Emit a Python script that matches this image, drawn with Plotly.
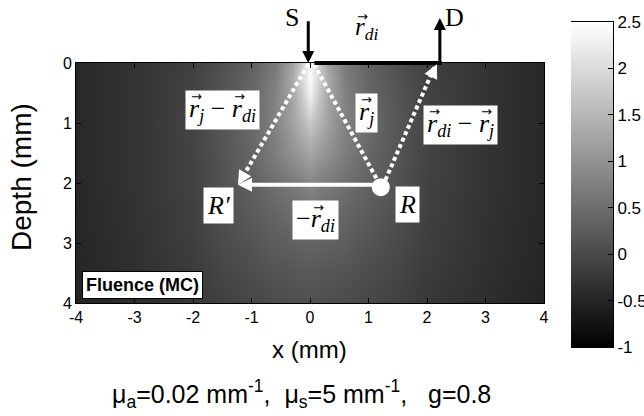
import plotly.graph_objects as go

# ---------------- data ----------------
x_mm = [-4, -3, -2, -1.5, -1, -0.6, -0.3, -0.15, 0, 0.15, 0.3, 0.6, 1, 1.5, 2, 3, 4]
depth_mm = [0, 0.25, 0.5, 1, 1.5, 2, 2.5, 3, 3.5, 4]
fluence_log = [
    [-0.45, -0.30, -0.12, 0.08, 0.33, 0.66, 1.20, 1.75, 2.43, 1.75, 1.20, 0.66, 0.33, 0.08, -0.12, -0.30, -0.45],
    [-0.45, -0.30, -0.10, 0.12, 0.38, 0.72, 1.33, 1.88, 2.45, 1.88, 1.33, 0.72, 0.38, 0.12, -0.10, -0.30, -0.45],
    [-0.45, -0.30, -0.09, 0.15, 0.40, 0.78, 1.26, 1.75, 2.36, 1.75, 1.26, 0.78, 0.40, 0.15, -0.09, -0.30, -0.45],
    [-0.45, -0.30, -0.06, 0.18, 0.46, 0.78, 1.20, 1.47, 1.75, 1.47, 1.20, 0.78, 0.46, 0.18, -0.06, -0.30, -0.45],
    [-0.45, -0.30, -0.08, 0.15, 0.40, 0.72, 0.99, 1.13, 1.26, 1.13, 0.99, 0.72, 0.40, 0.15, -0.08, -0.30, -0.45],
    [-0.45, -0.30, -0.09, 0.12, 0.34, 0.53, 0.66, 0.73, 0.85, 0.73, 0.66, 0.53, 0.34, 0.12, -0.09, -0.30, -0.45],
    [-0.46, -0.32, -0.12, 0.08, 0.25, 0.39, 0.48, 0.52, 0.58, 0.52, 0.48, 0.39, 0.25, 0.08, -0.12, -0.32, -0.46],
    [-0.48, -0.33, -0.14, 0.02, 0.15, 0.27, 0.32, 0.35, 0.38, 0.35, 0.32, 0.27, 0.15, 0.02, -0.14, -0.33, -0.48],
    [-0.49, -0.35, -0.19, -0.05, 0.05, 0.14, 0.18, 0.20, 0.22, 0.20, 0.18, 0.14, 0.05, -0.05, -0.19, -0.35, -0.49],
    [-0.52, -0.38, -0.23, -0.12, -0.03, 0.03, 0.06, 0.08, 0.09, 0.08, 0.06, 0.03, -0.03, -0.12, -0.23, -0.38, -0.52],
]
cbar_range = [-1, 2.5]
cbar_ticks = [-1, -0.5, 0, 0.5, 1, 1.5, 2, 2.5]
cbar_labels = ["-1", "-0.5", "0", "0.5", "1", "1.5", "2", "2.5"]
x_ticks = [-4, -3, -2, -1, 0, 1, 2, 3, 4]
y_ticks = [0, 1, 2, 3, 4]

# key points (mm): source S, detector D, point R and its image R'
S_pt = (-0.03, 0.0)
D_pt = (2.22, 0.0)
R_pt = (1.21, 2.07)
Rp_pt = (-1.23, 2.03)
arrow_top = -0.72   # depth (above surface) where S/D arrows end

SANS = "Liberation Sans, Arial, sans-serif"
SERIF = "Liberation Serif, Times New Roman, serif"

# page geometry (pixels) -> paper fractions
W, H = 644, 416
ML, MR, MT, MB = 76, 30, 22, 69
PW, PH = W - ML - MR, H - MT - MB


def px(xp):
    return (xp - ML) / PW


def py(yp):
    return (H - MB - yp) / PH


fig = go.Figure()

fig.add_trace(go.Heatmap(
    x=x_mm, y=depth_mm, z=fluence_log,
    zmin=cbar_range[0], zmax=cbar_range[1], zsmooth="best",
    colorscale=[[0, "black"], [1, "white"]], showscale=False, hoverinfo="skip",
    xaxis="x", yaxis="y",
))

# colour key drawn as its own small heatmap
fig.add_trace(go.Heatmap(
    x=[0, 1], y=cbar_range, z=[[cbar_range[0], cbar_range[0]], [cbar_range[1], cbar_range[1]]],
    zmin=cbar_range[0], zmax=cbar_range[1], zsmooth="best",
    colorscale=[[0, "black"], [1, "white"]], showscale=False, hoverinfo="skip",
    xaxis="x2", yaxis="y2",
))

# dotted white paths
dot = dict(color="white", width=4, dash="4px,3px")
fig.add_trace(go.Scatter(x=[S_pt[0], Rp_pt[0] + 0.05], y=[0.02, Rp_pt[1] - 0.08],
                         mode="lines", line=dot, showlegend=False, hoverinfo="skip"))
fig.add_trace(go.Scatter(x=[0.07, R_pt[0] - 0.06], y=[0.02, R_pt[1] - 0.12],
                         mode="lines", line=dot, showlegend=False, hoverinfo="skip"))
fig.add_trace(go.Scatter(x=[R_pt[0] + 0.08, D_pt[0] - 0.1], y=[R_pt[1] - 0.12, 0.08],
                         mode="lines", line=dot, showlegend=False, hoverinfo="skip"))
# point R
fig.add_trace(go.Scatter(x=[R_pt[0]], y=[R_pt[1]], mode="markers",
                         marker=dict(color="white", size=18), showlegend=False, hoverinfo="skip"))

ann = []
# S and D arrows, surface line
ann.append(dict(x=S_pt[0], y=0, ax=S_pt[0], ay=arrow_top, xref="x", yref="y", axref="x", ayref="y",
                showarrow=True, arrowhead=2, arrowsize=0.8, arrowwidth=3, arrowcolor="black", text=""))
ann.append(dict(x=D_pt[0], y=arrow_top - 0.03, ax=D_pt[0], ay=0, xref="x", yref="y", axref="x", ayref="y",
                showarrow=True, arrowhead=2, arrowsize=0.8, arrowwidth=3, arrowcolor="black", text=""))
ann.append(dict(x=D_pt[0] + 0.03, y=0, ax=0.05, ay=0, xref="x", yref="y", axref="x", ayref="y",
                showarrow=True, arrowhead=0, arrowwidth=4, arrowcolor="black", text=""))
# white arrowheads / arrow
ann.append(dict(x=Rp_pt[0], y=Rp_pt[1], ax=R_pt[0] - 0.1, ay=Rp_pt[1], xref="x", yref="y", axref="x", ayref="y",
                showarrow=True, arrowhead=2, arrowsize=0.7, arrowwidth=4, arrowcolor="white", text=""))
ann.append(dict(x=Rp_pt[0], y=Rp_pt[1], ax=Rp_pt[0] + 0.12, ay=Rp_pt[1] - 0.2, xref="x", yref="y", axref="x", ayref="y",
                showarrow=True, arrowhead=2, arrowsize=0.7, arrowwidth=4, arrowcolor="white", text=""))
ann.append(dict(x=D_pt[0] - 0.05, y=0.02, ax=D_pt[0] - 0.15, ay=0.22, xref="x", yref="y", axref="x", ayref="y",
                showarrow=True, arrowhead=2, arrowsize=0.7, arrowwidth=4, arrowcolor="white", text=""))

r = "<i>r</i>"
MINUS = " \u2212 "
LABEL_SIZE = 26
# (x mm, depth mm, text, pixel offsets of each vector arrow relative to the label centre)
labels = [
    (-1.49, 0.78, r + "<sub><i>j</i></sub>" + MINUS + r + "<sub><i>di</i></sub>", [-28, 15]),
    (0.97, 0.83, r + "<sub><i>j</i></sub>", [-2]),
    (2.58, 1.03, r + "<sub><i>di</i></sub>" + MINUS + r + "<sub><i>j</i></sub>", [-28, 24]),
    (-1.56, 2.38, "<i>R\u2032</i>", []),
    (0.09, 2.62, "\u2212" + r + "<sub><i>di</i></sub>", [1]),
    (1.66, 2.35, "<i>R</i>", []),
]
for lx, ly, lt, arrows in labels:
    ann.append(dict(x=lx, y=ly, xref="x", yref="y", text=lt, showarrow=False,
                    bgcolor="white", borderpad=3,
                    font=dict(family=SERIF, size=LABEL_SIZE, color="black")))
    for dx in arrows:
        ann.append(dict(x=lx, y=ly, xref="x", yref="y", text="\u2192", showarrow=False,
                        xshift=dx + 2, yshift=13,
                        font=dict(family="DejaVu Sans", size=13, color="black")))

ann.append(dict(x=-2.87, y=3.7, xref="x", yref="y", text="<b>Fluence (MC)</b>", showarrow=False,
                bgcolor="white", bordercolor="black", borderwidth=1, borderpad=3,
                font=dict(family=SANS, size=18, color="black")))

# S, D and r_di labels above the plot
top_texts = [
    (292, 17, "S", 26, None),
    (454, 17, "D", 26, None),
    (366, 29, r + "<sub><i>di</i></sub>", 25, -6),
]
for xp, yp, t, fs, arr in top_texts:
    ann.append(dict(x=px(xp), y=py(yp), xref="paper", yref="paper", text=t, showarrow=False,
                    xanchor="center", yanchor="middle",
                    font=dict(family=SERIF, size=fs, color="black")))
    if arr is not None:
        ann.append(dict(x=px(xp), y=py(yp), xref="paper", yref="paper", text="\u2192", showarrow=False,
                        xanchor="center", yanchor="middle", xshift=arr + 2, yshift=12,
                        font=dict(family="DejaVu Sans", size=13, color="black")))

# axis titles and bottom caption
ann.append(dict(x=px(309), y=py(349), xref="paper", yref="paper", text="x (mm)", showarrow=False,
                xanchor="center", yanchor="middle", font=dict(family=SANS, size=24, color="black")))
ann.append(dict(x=px(21), y=py(177), xref="paper", yref="paper", text="Depth (mm)", showarrow=False,
                xanchor="center", yanchor="middle", textangle=-90,
                font=dict(family=SANS, size=28, color="black")))
ann.append(dict(x=px(301), y=py(394), xref="paper", yref="paper", xanchor="center", yanchor="middle",
                text="\u03bc<sub>a</sub>=0.02 mm<sup>-1</sup>,  \u03bc<sub>s</sub>=5 mm<sup>-1</sup>,   g=0.8",
                showarrow=False, font=dict(family=SANS, size=25, color="black")))

axis_common = dict(showline=True, linecolor="black", linewidth=1, showgrid=False, zeroline=False,
                   tickcolor="black", ticklen=5, automargin=False)

fig.update_layout(
    width=W, height=H,
    margin=dict(l=ML, r=MR, t=MT, b=MB, autoexpand=False),
    paper_bgcolor="white", plot_bgcolor="white",
    annotations=ann, showlegend=False,
    xaxis=dict(domain=[px(76), px(544)], range=[-4, 4], tickvals=x_ticks,
               ticktext=[str(v) for v in x_ticks], ticks="inside", mirror="ticks",
               tickfont=dict(family=SANS, size=16, color="black"), anchor="y", **axis_common),
    yaxis=dict(domain=[py(303), py(63)], range=[4, 0], tickvals=y_ticks,
               ticktext=[str(v) for v in y_ticks], ticks="inside", mirror="ticks",
               tickfont=dict(family=SANS, size=16, color="black"), anchor="x", **axis_common),
    xaxis2=dict(domain=[px(571), px(613)], range=[0, 1], showticklabels=False, ticks="",
                mirror=True, anchor="y2", **axis_common),
    yaxis2=dict(domain=[py(347), py(22)], range=cbar_range, tickvals=cbar_ticks, ticktext=cbar_labels,
                side="right", ticks="inside", mirror=False, anchor="x2",
                tickfont=dict(family=SANS, size=17, color="black"), **axis_common),
)

fig.write_html("out.html")
